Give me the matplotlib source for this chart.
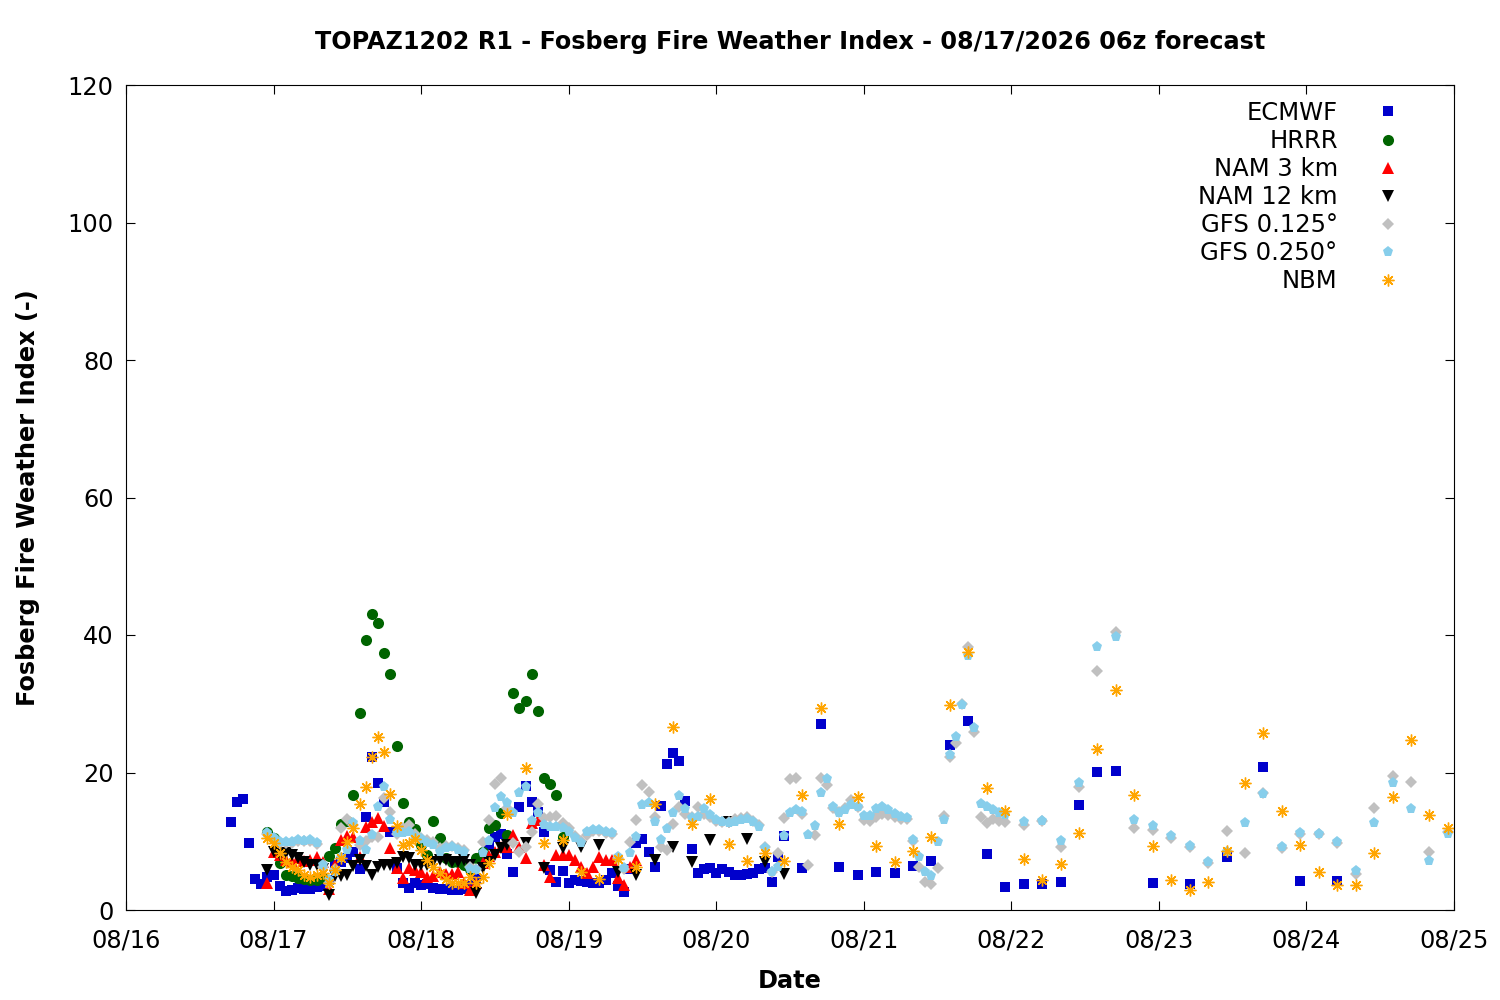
import numpy as np
import matplotlib
matplotlib.use("Agg")
import matplotlib.pyplot as plt
import matplotlib.dates as mdates
from datetime import datetime, timedelta

# ---------------- data (hours since 08/16 00:00, FFWI values) ----------------
base_time = datetime(2026, 8, 16)

ecmwf_hours = np.concatenate([np.arange(17, 108), np.arange(110, 162, 3), np.arange(167, 198, 6)])
ecmwf_vals = [12.8, 15.7, 16.1, 9.7, 4.5, 3.8, 4.8, 5.1, 3.5, 2.8, 2.9, 3.2, 3.1, 3.1, 3.3, 3.5, 4.3,
              6.5, 7.0, 7.5, 8.4, 6.0, 13.5, 22.3, 18.5, 15.7, 11.3, 6.1, 3.9, 3.2, 4.0, 3.6, 3.8, 3.2,
              3.1, 3.0, 2.9, 2.9, 3.0, 3.5, 4.5, 6.8, 9.5, 10.6,
              11.0, 8.2, 5.5, 15.0, 18.0, 15.7, 14.3, 11.3, 5.8, 4.1,
              5.7, 3.9, 4.4, 4.2, 4.1, 3.9, 3.9, 4.4, 5.4, 3.5,
              2.6, 6.0, 9.7, 10.3, 8.4, 6.3, 15.1, 21.2, 22.8, 21.7,
              15.9, 8.9, 5.4, 6.0, 6.1, 5.4, 6.0, 5.6, 5.1, 5.1,
              5.2, 5.4, 6.0, 6.1, 4.1, 7.7, 10.8,
              6.1, 27.0, 6.3, 5.1, 5.5, 5.4, 6.4, 7.1, 24.0, 27.5, 8.1, 3.3, 3.8, 3.8, 4.1, 15.3, 20.1, 20.2,
              3.9, 3.8, 7.7, 20.8, 4.2, 4.2]

hrrr_hours = np.arange(23, 72)
hrrr_vals = [11.3, 10.5, 6.8, 5.1, 4.9, 4.7, 4.5, 4.3, 4.3, 4.6,
             7.8, 9.0, 12.5, 13.0, 16.7, 28.7, 39.3, 43.0, 41.7, 37.4,
             34.3, 23.9, 15.6, 12.8, 11.8, 9.5, 8.0, 12.9, 10.5, 7.5,
             7.0, 7.0, 6.5, 6.0, 7.5, 8.4, 12.0, 12.4, 14.1, 10.9,
             31.6, 29.4, 30.4, 34.3, 28.9, 19.2, 18.3, 16.7, 10.6]

nam3_hours = np.arange(23, 84)
nam3_vals = [3.9, 8.5, 8.0, 7.3, 7.0, 7.6, 7.2, 7.3, 7.7, 7.0,
             3.0, 6.5, 10.2, 10.8, 10.6, 7.7, 12.1, 12.8, 13.4, 12.2,
             9.0, 6.1, 4.7, 6.1, 5.8, 5.5, 4.8, 5.0, 5.5, 5.2,
             5.3, 5.5, 4.0, 2.9, 3.9, 6.8, 7.8, 8.4, 9.2, 9.2,
             10.9, 9.2, 7.6, 12.6, 13.1, 6.5, 4.8, 8.0, 8.0, 8.0,
             7.3, 6.3, 5.4, 6.3, 7.7, 7.3, 7.3, 4.7, 3.6, 6.3, 7.3]

nam12_hours = np.concatenate([np.arange(23, 63), np.arange(65, 108, 3)])
nam12_vals = [5.8, 8.5, 8.0, 8.3, 8.0, 7.5, 7.0, 6.5, 6.5, 6.0,
              2.2, 5.0, 5.0, 5.1, 6.4, 7.3, 6.4, 5.1, 6.2, 6.5,
              6.5, 6.8, 7.7, 7.5, 6.5, 6.5, 6.5, 7.0, 7.3, 7.3,
              7.0, 7.0, 7.3, 6.5, 2.5, 6.1, 7.0, 8.0, 9.0, 9.5,
              9.7, 6.1, 9.0, 9.2, 9.5, 5.5, 5.1, 7.3, 9.2, 7.0, 10.2, 12.8, 10.3, 7.0, 5.2]

gfs_hours = np.concatenate([np.arange(23, 144), np.arange(146, 216, 3)])
gfs0125_vals = [11.0, 10.3, 9.8, 9.8, 9.8, 10.0, 10.0, 10.0, 9.6, 6.3,
                4.0, 6.0, 12.0, 13.3, 12.3, 9.5, 10.0, 10.6, 10.6, 16.3,
                14.3, 11.0, 12.0, 12.4, 11.0, 10.5, 10.2, 9.9, 9.0, 9.3,
                9.3, 9.0, 8.8, 6.3, 6.0, 9.9, 13.1, 18.3, 19.2, 14.8,
                9.7, 8.4, 9.2, 11.3, 15.4, 13.4, 13.5, 13.7, 12.7, 11.9,
                10.8, 10.0, 10.9, 11.5, 11.5, 11.2, 11.0, 7.5, 6.0, 9.9,
                13.1, 18.2, 17.2, 13.5, 9.2, 8.7, 12.5, 15.0, 14.0, 13.5,
                15.0, 14.0, 13.5, 13.0, 12.8, 12.8, 13.3, 13.4, 13.5, 13.0,
                12.4, 9.2, 5.5, 8.3, 13.4, 19.0, 19.2, 14.0, 6.5, 10.9,
                19.2, 18.2, 14.8, 14.3, 14.8, 16.0, 15.0, 13.1, 12.9, 13.5,
                14.0, 13.8, 13.6, 13.3, 13.2, 10.0, 6.3, 4.1, 3.8, 6.1,
                13.7, 22.3, 24.3, 30.0, 38.2, 25.9, 13.5, 12.7, 13.2, 13.0, 12.8,
                12.4, 12.9, 9.2, 17.9, 34.8, 40.4, 11.9, 11.6, 10.5, 9.1, 6.8, 11.5,
                8.3, 17.0, 9.0, 11.0, 11.0, 9.7, 5.2, 14.8, 19.5, 18.6, 8.4, 11.3]
gfs0250_vals = [11.2, 10.5, 9.9, 9.9, 9.9, 10.2, 10.0, 10.2, 9.7, 6.5,
                4.4, 5.5, 7.5, 8.7, 12.6, 10.0, 8.7, 10.9, 15.0, 17.9,
                13.1, 11.2, 11.2, 11.4, 10.6, 10.3, 9.8, 9.5, 8.4, 9.0,
                9.1, 8.8, 8.5, 6.0, 5.8, 8.3, 10.0, 14.8, 16.4, 15.6,
                14.1, 17.0, 17.9, 12.9, 14.1, 12.4, 12.1, 12.1, 11.9, 11.3,
                10.5, 9.7, 11.3, 11.6, 11.6, 11.3, 11.2, 7.7, 6.1, 8.3,
                10.6, 15.3, 15.6, 12.8, 10.2, 11.8, 14.1, 16.6, 14.7, 13.4,
                13.5, 14.7, 13.8, 13.1, 12.8, 12.6, 12.8, 13.1, 13.2, 12.8,
                12.1, 9.0, 5.5, 6.3, 10.8, 14.1, 14.5, 14.3, 10.9, 12.2,
                17.0, 19.0, 15.0, 14.1, 14.5, 15.3, 15.0, 13.7, 13.7, 14.7,
                15.0, 14.5, 14.0, 13.5, 13.4, 10.2, 7.7, 5.5, 4.9, 9.9,
                13.1, 22.5, 25.2, 29.8, 36.9, 26.5, 15.4, 15.0, 14.5, 14.1, 13.8,
                12.8, 12.9, 10.0, 18.5, 38.2, 39.7, 13.1, 12.2, 10.8, 9.3, 7.0, 8.5,
                12.6, 16.9, 9.2, 11.2, 11.1, 9.9, 5.7, 12.6, 18.5, 14.7, 7.1, 11.0]

nbm_hours = np.concatenate([np.arange(23, 60), np.arange(62, 216, 3)])
nbm_vals = [10.5, 9.7, 8.3, 7.0, 6.3, 5.8, 5.1, 4.8, 5.1, 5.4,
            3.9, 5.8, 7.6, 9.9, 11.9, 15.4, 17.9, 22.3, 25.2, 23.0,
            16.9, 12.2, 9.5, 9.8, 10.3, 8.7, 7.3, 6.3, 5.4, 4.5,
            3.9, 3.9, 3.9, 4.8, 3.9, 4.8, 6.9,
            14.0, 20.6, 9.7, 10.2, 5.5, 4.5, 7.4, 6.3, 15.4, 26.6,
            12.5, 16.1, 9.6, 7.1, 8.3, 7.1, 16.7, 29.4, 12.5, 16.4,
            9.3, 7.0, 8.6, 10.6, 29.8, 37.5, 17.7, 14.4, 7.4, 4.4,
            6.7, 11.2, 23.4, 32.0, 16.7, 9.3, 4.4, 2.9, 4.1, 8.6,
            18.5, 25.7, 14.4, 9.5, 5.5, 3.6, 3.6, 8.3, 16.4, 24.8,
            13.8, 11.9]

series = [
    ("ECMWF", ecmwf_hours, ecmwf_vals, "s", "#0000CC", 6.5),
    ("HRRR", hrrr_hours, hrrr_vals, "o", "#006400", 8.0),
    ("NAM 3 km", nam3_hours, nam3_vals, "^", "#FF0000", 8.0),
    ("NAM 12 km", nam12_hours, nam12_vals, "v", "#000000", 8.0),
    ("GFS 0.125°", gfs_hours, gfs0125_vals, "D", "#C0C0C0", 6.0),
    ("GFS 0.250°", gfs_hours, gfs0250_vals, "p", "#87CEEB", 8.0),
    ("NBM", nbm_hours, nbm_vals, (8, 2, 0), "#FFA500", 8.5),
]

# ---------------- figure ----------------
plt.rcParams['font.family'] = ['DejaVu Sans']
fs = 17.3
fig = plt.figure(figsize=(15, 10), dpi=100)
ax = fig.add_axes([126 / 1500, 90 / 1000, 1328 / 1500, 825 / 1000])

for name, hrs, vals, mk, col, ms in series:
    t = [base_time + timedelta(hours=int(h)) for h in hrs]
    if isinstance(mk, tuple):
        ax.plot(t, vals, linestyle="none", marker=mk, color=col, markersize=ms,
                markeredgewidth=1.0, label=name)
    else:
        ax.plot(t, vals, linestyle="none", marker=mk, color=col, markersize=ms,
                markeredgewidth=0, label=name)

ax.set_xlim(datetime(2026, 8, 16), datetime(2026, 8, 25))
ax.set_ylim(0, 120)
ax.xaxis.set_major_locator(mdates.DayLocator())
ax.xaxis.set_major_formatter(mdates.DateFormatter("%m/%d"))
ax.set_yticks(np.arange(0, 121, 20))

ax.tick_params(direction="in", length=6.5, width=0.8, top=True, right=True,
               labelsize=fs)
ax.tick_params(axis="x", pad=13)
ax.tick_params(axis="y", pad=9)
for sp in ax.spines.values():
    sp.set_linewidth(0.8)

ax.set_xlabel("Date", fontsize=fs, fontweight="bold", labelpad=12)
ax.set_ylabel("Fosberg Fire Weather Index (-)", fontsize=fs, fontweight="bold", labelpad=20)
fig.text(790 / 1500, 1 - 42 / 1000,
         "TOPAZ1202 R1 - Fosberg Fire Weather Index - 08/17/2026 06z forecast",
         fontsize=17.2, fontweight="bold", ha="center", va="center")

leg = ax.legend(loc="upper right", bbox_to_anchor=((1412 - 126) / 1328, (910 - 101) / 825),
                frameon=False, markerfirst=False, fontsize=17.5, handlelength=2.0,
                handletextpad=1.06, labelspacing=0.165, borderpad=0, borderaxespad=0)

fig.savefig("out.png", dpi=100)
